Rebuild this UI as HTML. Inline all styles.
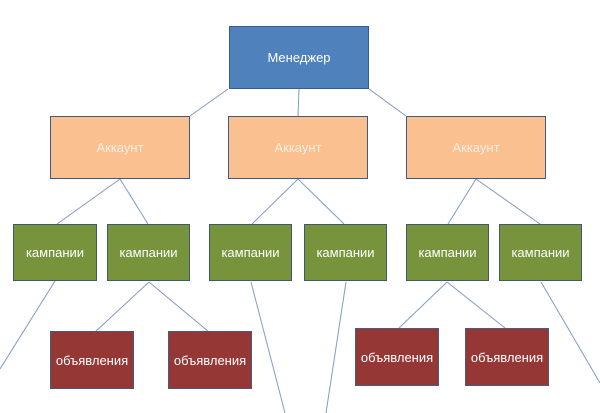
<!DOCTYPE html>
<html><head><meta charset="utf-8"><style>
body{margin:0;width:600px;height:413px;background:#fff;position:relative;overflow:hidden;font-family:"Liberation Sans","DejaVu Sans",sans-serif}
.b{position:absolute;box-sizing:border-box;border:1.5px solid #3f5a7e;display:flex;align-items:center;justify-content:center;color:#fff;font-size:13px}
.m{background:#4f81bd;border-color:#385d8a}
.a{background:#fac090;color:#fdeee0}
.c{background:#77933c;border-color:#3f5a6e}
.o{background:#953735;border-color:#4a5a7e}
svg{position:absolute;left:0;top:0}
</style></head><body>
<svg width="600" height="413"><g stroke="#7f9cc8" stroke-width="1" fill="none">
<line x1="228" y1="89" x2="190" y2="116"/><line x1="299" y1="89" x2="298" y2="116"/><line x1="369" y1="89" x2="406" y2="116"/>
<line x1="120" y1="179" x2="57" y2="224"/><line x1="120" y1="179" x2="148" y2="224"/>
<line x1="298" y1="179" x2="252" y2="224"/><line x1="298" y1="179" x2="344" y2="224"/>
<line x1="476" y1="179" x2="448" y2="224"/><line x1="476" y1="179" x2="540" y2="224"/>
<line x1="55" y1="281" x2="0" y2="369"/>
<line x1="149" y1="282" x2="95" y2="332"/><line x1="149" y1="282" x2="209" y2="332"/>
<line x1="251" y1="282" x2="285" y2="413"/><line x1="346" y1="282" x2="326" y2="413"/>
<line x1="447" y1="282" x2="399" y2="328"/><line x1="447" y1="282" x2="505" y2="328"/>
<line x1="541" y1="282" x2="600" y2="383"/>
</g></svg>
<div class="b m" style="left:229px;top:26px;width:140px;height:63px">Менеджер</div>
<div class="b a" style="left:50px;top:116px;width:140px;height:63px">Аккаунт</div>
<div class="b a" style="left:228px;top:116px;width:140px;height:63px">Аккаунт</div>
<div class="b a" style="left:406px;top:116px;width:140px;height:63px">Аккаунт</div>
<div class="b c" style="left:13px;top:224px;width:84px;height:57px">кампании</div>
<div class="b c" style="left:107px;top:224px;width:83px;height:57px">кампании</div>
<div class="b c" style="left:209px;top:224px;width:83px;height:57px">кампании</div>
<div class="b c" style="left:304px;top:224px;width:83px;height:57px">кампании</div>
<div class="b c" style="left:406px;top:224px;width:83px;height:57px">кампании</div>
<div class="b c" style="left:499px;top:224px;width:83px;height:57px">кампании</div>
<div class="b o" style="left:50px;top:331px;width:84px;height:58px">объявления</div>
<div class="b o" style="left:168px;top:331px;width:84px;height:58px">объявления</div>
<div class="b o" style="left:355px;top:328px;width:84px;height:58px">объявления</div>
<div class="b o" style="left:465px;top:328px;width:84px;height:58px">объявления</div>
</body></html>
